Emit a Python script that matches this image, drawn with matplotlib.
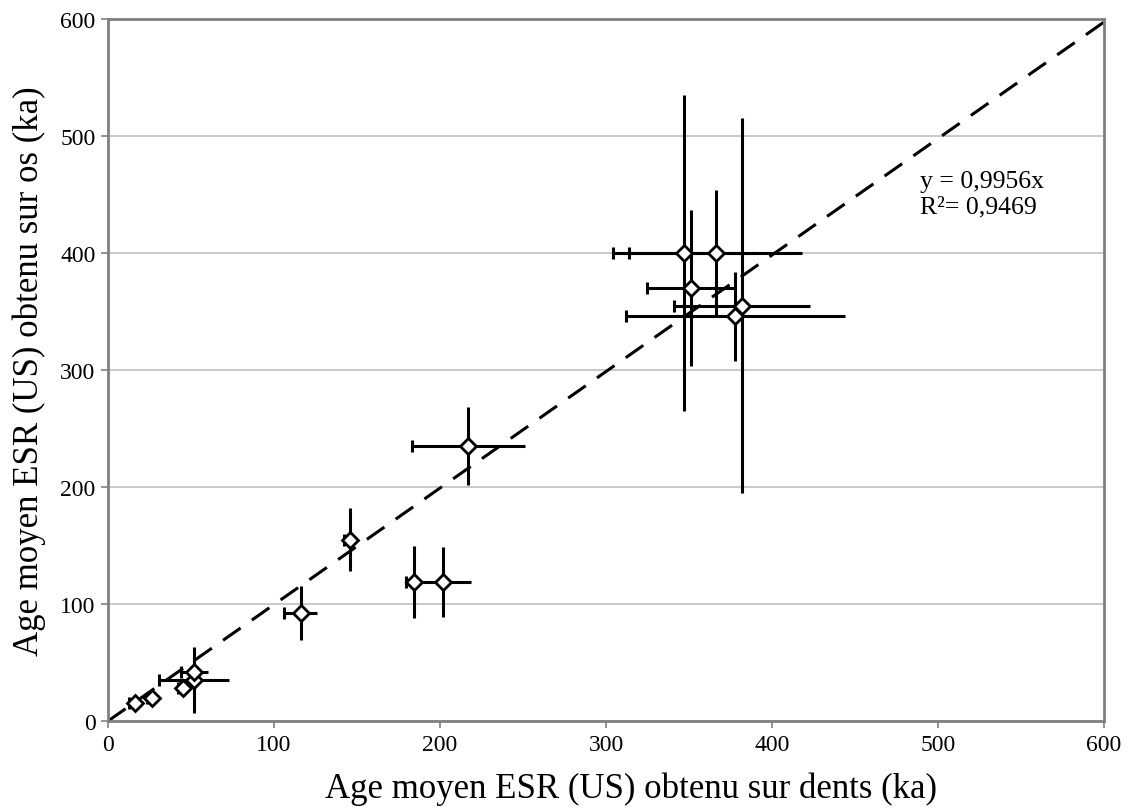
import matplotlib
matplotlib.use("Agg")
import matplotlib.pyplot as plt
import numpy as np

# Data
dents = [16, 26.5, 45, 52, 52, 116, 146, 184.5, 201.5, 217, 347, 366, 351, 382, 378]
os_ = [15, 20, 28, 35, 42, 92, 155, 119, 119, 235, 400, 400, 370, 355, 346]
err_dents = [3.5, 3, 3, 21, 8, 10, 4, 5, 17, 34, 43, 52, 26, 41, 66]
err_os = [3, 3, 3, 28, 5, 23, 27, 31, 30, 33, 135, 54, 67, 160, 38]
slope = 0.9956
eq_text = "y = 0,9956x"
r2_text = "R\u00b2= 0,9469"
ticks = [0, 100, 200, 300, 400, 500, 600]

plt.rcParams['font.family'] = ['Liberation Serif', 'DejaVu Serif']

fig = plt.figure(figsize=(11.42, 8.12), dpi=100)
ax = fig.add_axes([0.0946, 0.1108, 0.9667 - 0.0946, 0.9754 - 0.1108])

x = np.array(dents)
y = np.array(os_)
xe = np.array(err_dents)
ye = np.array(err_os)

# grid
ax.set_axisbelow(True)
ax.yaxis.grid(True, color='#c0c0c0', linewidth=1.2)

# regression line
xl = np.array([0, 600])
ax.plot(xl, slope * xl, color='black', linewidth=2.2, linestyle=(0, (7, 4.5)), zorder=2)

# error bars
ax.errorbar(x, y, xerr=xe, yerr=ye, fmt='none', ecolor='black', elinewidth=2.2,
            capsize=0, zorder=3)
# left caps on horizontal bars
ax.plot(x - xe, y, linestyle='none', marker='|', markersize=9, markeredgewidth=2.2,
        color='black', zorder=3)
# markers
ax.plot(x, y, linestyle='none', marker='D', markersize=8.5, markerfacecolor='white',
        markeredgecolor='black', markeredgewidth=2, zorder=4)

ax.set_xlim(0, 600)
ax.set_ylim(0, 600)
ax.set_xticks(ticks)
ax.set_yticks(ticks)
ax.tick_params(axis='both', labelsize=17, direction='out', length=5, width=1.2,
               color='#808080', pad=4)
for s in ax.spines.values():
    s.set_color('#808080')
    s.set_linewidth(2)

ax.set_xlabel("Age moyen ESR (US) obtenu sur dents (ka)", fontsize=25, labelpad=10)
ax.xaxis.set_label_coords(0.525, -0.072)
ax.set_ylabel("Age moyen ESR (US) obtenu sur os (ka)", fontsize=25, labelpad=10)

ax.text(489, 456, eq_text, fontsize=18.5, va='baseline', ha='left')
ax.text(489, 435, r2_text, fontsize=18.5, va='baseline', ha='left')

fig.savefig("out.png", dpi=100)
